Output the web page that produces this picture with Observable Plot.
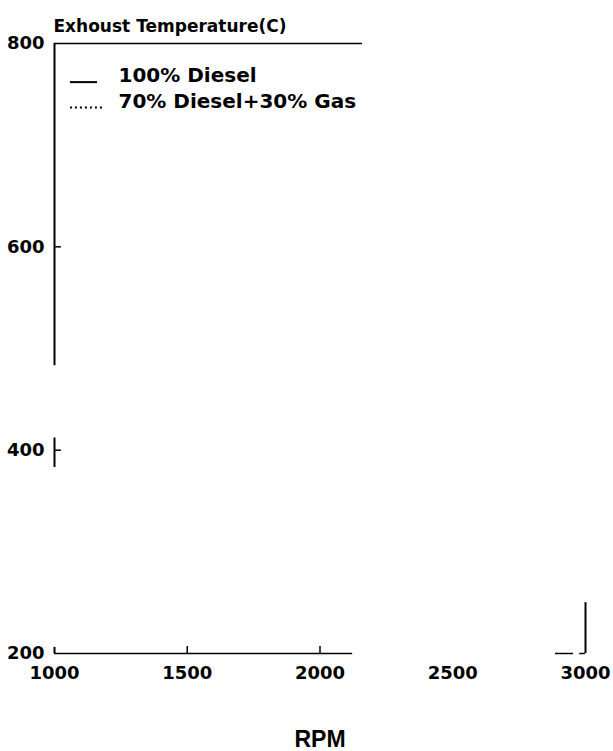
<!DOCTYPE html>
<html><head><meta charset="utf-8">
<script src="https://cdn.jsdelivr.net/npm/d3@7"></script>
<script src="https://cdn.jsdelivr.net/npm/@observablehq/plot@0.6"></script>
<style>body{margin:0;background:#fff}</style>
</head><body><div id="chart"></div>
<script>
// ticks and labels
const xTicks = [1000, 1500, 2000, 2500, 3000];
const yTicks = [200, 400, 600, 800];
const innerTicksY = [400, 600];
const innerTicksX = [1500, 2000];
const titleText = "Exhoust Temperature(C)";
const xLabelText = "RPM";
const seriesNames = ["100% Diesel", "70% Diesel+30% Gas"];
// legend anchor values (data units)
const legendY = [762, 737];
const legendSampleX1 = [1060, 1060];
const legendSampleX2 = [1162, 1192];
const legendTextX = [1241, 1241];
// visible fragments of the scanned frame (data units)
const leftAxisPieces = [{y1: 800, y2: 483}, {y1: 412, y2: 383}, {y1: 206, y2: 200}];
const bottomAxisPieces = [{x1: 1000, x2: 2123}, {x1: 2887, x2: 2955}, {x1: 2978, x2: 3000}];
const topAxisPieces = [{x1: 1000, x2: 2160}];
const rightAxisPieces = [{y1: 200, y2: 250}];
// inner tick lengths (data units)
const xTickLen = 7;
const yTickLen = 26;

const legend = seriesNames.map((name, i) => ({
  name, y: legendY[i], x1: legendSampleX1[i], x2: legendSampleX2[i], tx: legendTextX[i]
}));
const x0 = xTicks[0], x1End = xTicks[xTicks.length - 1];
const y0 = yTicks[0], y1End = yTicks[yTicks.length - 1];

const chart = Plot.plot({
  width: 613,
  height: 751,
  marginLeft: 54,
  marginRight: 28,
  marginTop: 43,
  marginBottom: 98,
  x: {domain: [x0, x1End]},
  y: {domain: [y0, y1End]},
  style: {fontFamily: "DejaVu Sans", fontWeight: "bold", fontSize: "18px", color: "#000", background: "#fff"},
  marks: [
    Plot.axisX(xTicks, {tickSize: 0, tickPadding: 13, label: null, fontSize: 18, tickFormat: "d"}),
    Plot.axisY(yTicks, {tickSize: 0, tickPadding: 10, label: null, fontSize: 18, tickFormat: "d"}),
    Plot.ruleX(innerTicksX, {x: d => d, y1: () => y0, y2: () => y0 + xTickLen, strokeWidth: 1.5}),
    Plot.ruleY(innerTicksY, {y: d => d, x1: () => x0, x2: () => x0 + yTickLen, strokeWidth: 1.5}),
    Plot.ruleX(leftAxisPieces, {x: () => x0, y1: "y1", y2: "y2", strokeWidth: 2}),
    Plot.ruleX(rightAxisPieces, {x: () => x1End, y1: "y1", y2: "y2", strokeWidth: 2}),
    Plot.ruleY(bottomAxisPieces, {y: () => y0, x1: "x1", x2: "x2", strokeWidth: 1.5}),
    Plot.ruleY(topAxisPieces, {y: () => y1End, x1: "x1", x2: "x2", strokeWidth: 1.5}),
    Plot.ruleY(legend.slice(0, 1), {y: "y", x1: "x1", x2: "x2", strokeWidth: 2}),
    Plot.ruleY(legend.slice(1), {y: "y", x1: "x1", x2: "x2", strokeWidth: 2, strokeDasharray: "2,3"}),
    Plot.text(legend, {x: "tx", y: "y", text: "name", textAnchor: "start", lineAnchor: "bottom", fontSize: 20}),
    Plot.text([titleText], {frameAnchor: "top-left", dx: -1, dy: -12, textAnchor: "start", lineAnchor: "bottom", fontSize: 17}),
    Plot.text([xLabelText], {frameAnchor: "bottom", dy: 93, lineAnchor: "bottom", fontSize: 23, fontFamily: "Liberation Sans"})
  ]
});
document.getElementById("chart").appendChild(chart);
</script>
</body></html>
